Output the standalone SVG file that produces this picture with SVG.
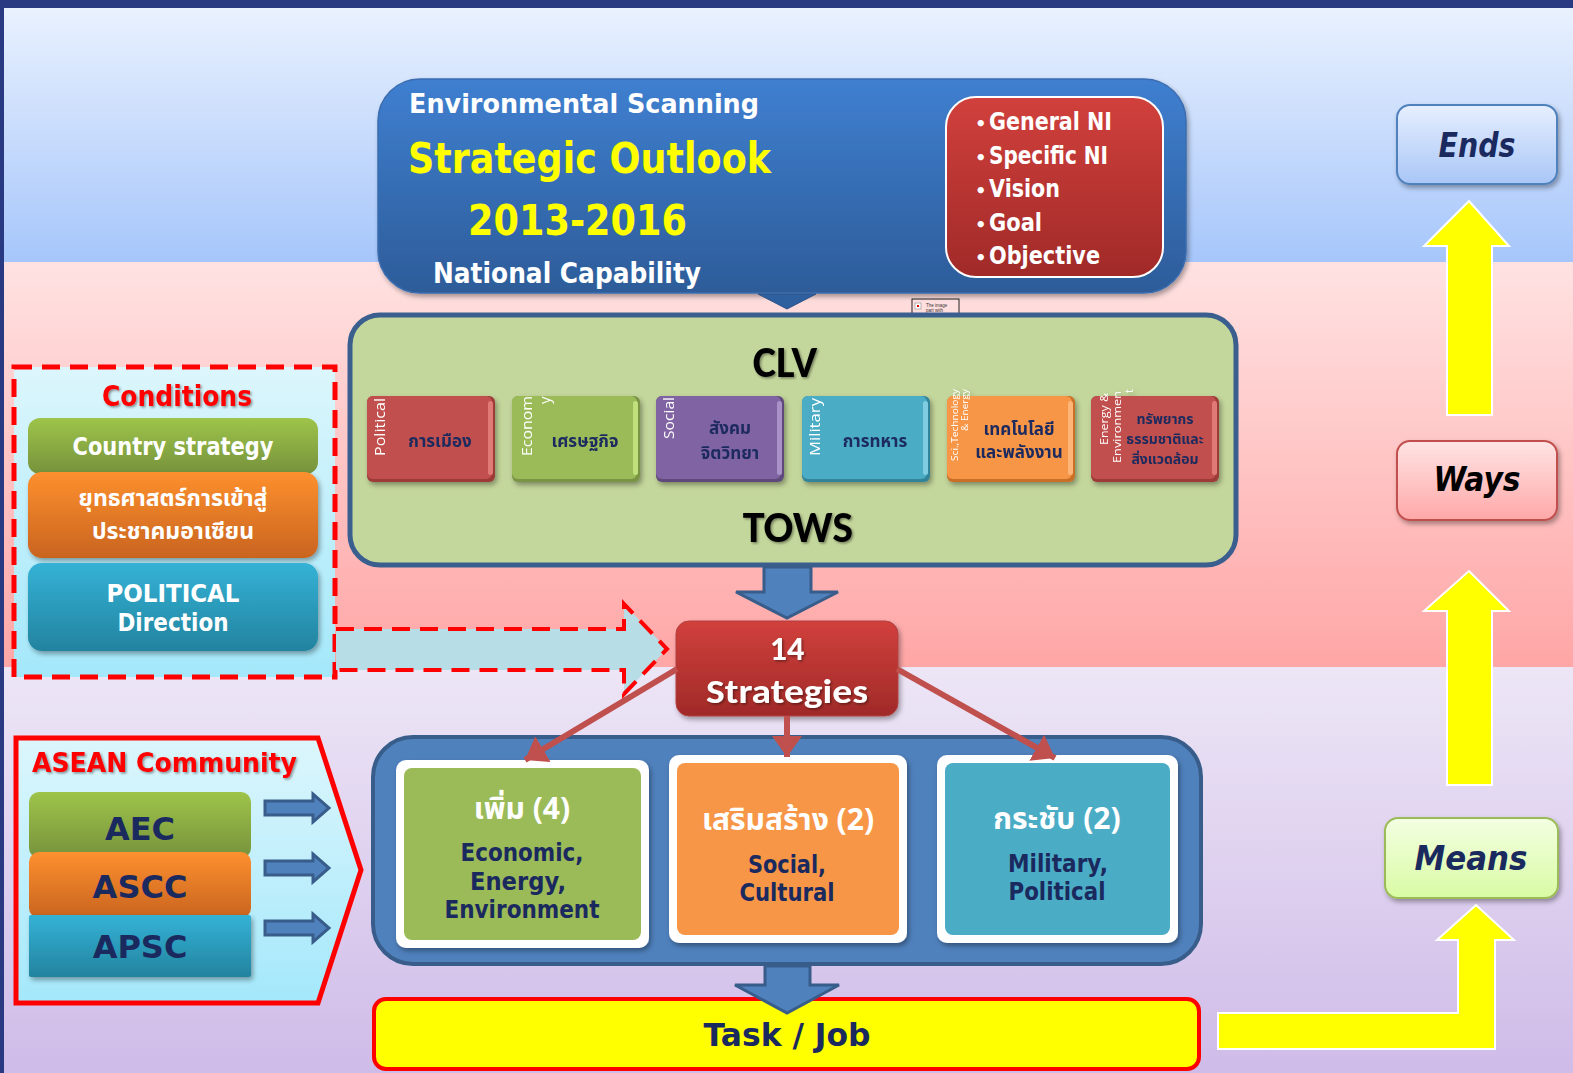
<svg xmlns="http://www.w3.org/2000/svg" width="1573" height="1073" viewBox="0 0 1573 1073">
<defs>
<linearGradient id="bg1" x1="0" y1="0" x2="0" y2="1"><stop offset="0" stop-color="#e9f1fe"/><stop offset="1" stop-color="#a6c6fb"/></linearGradient>
<linearGradient id="bg2" x1="0" y1="0" x2="0" y2="1"><stop offset="0" stop-color="#ffe2e2"/><stop offset="1" stop-color="#ffa6a6"/></linearGradient>
<linearGradient id="bg3" x1="0" y1="0" x2="0" y2="1"><stop offset="0" stop-color="#ede6f6"/><stop offset="1" stop-color="#cfbbe8"/></linearGradient>
<linearGradient id="gTop" x1="0" y1="0" x2="0" y2="1"><stop offset="0" stop-color="#3f7fd0"/><stop offset="1" stop-color="#2d5c99"/></linearGradient>
<linearGradient id="gRed" x1="0" y1="0" x2="0" y2="1"><stop offset="0" stop-color="#d1403c"/><stop offset="1" stop-color="#a02a28"/></linearGradient>
<linearGradient id="gCyan" x1="0" y1="0" x2="0" y2="1"><stop offset="0" stop-color="#dcf6fc"/><stop offset="1" stop-color="#a4e8fb"/></linearGradient>
<linearGradient id="gGreen" x1="0" y1="0" x2="0" y2="1"><stop offset="0" stop-color="#9ec44a"/><stop offset="1" stop-color="#76923c"/></linearGradient>
<linearGradient id="gOrange" x1="0" y1="0" x2="0" y2="1"><stop offset="0" stop-color="#fd902e"/><stop offset="1" stop-color="#c9641f"/></linearGradient>
<linearGradient id="gTeal" x1="0" y1="0" x2="0" y2="1"><stop offset="0" stop-color="#34b2d6"/><stop offset="1" stop-color="#23839f"/></linearGradient>
<linearGradient id="gEnds" x1="0" y1="0" x2="0" y2="1"><stop offset="0" stop-color="#e6efff"/><stop offset="1" stop-color="#a9c6f6"/></linearGradient>
<linearGradient id="gWays" x1="0" y1="0" x2="0" y2="1"><stop offset="0" stop-color="#ffe4e4"/><stop offset="1" stop-color="#ffa8a8"/></linearGradient>
<linearGradient id="gMeans" x1="0" y1="0" x2="0" y2="1"><stop offset="0" stop-color="#f3ffe2"/><stop offset="1" stop-color="#d9fba4"/></linearGradient>
<filter id="sh" x="-10%" y="-10%" width="130%" height="130%"><feDropShadow dx="2" dy="3" stdDeviation="2.5" flood-color="#000" flood-opacity="0.35"/></filter>
<filter id="tsh" x="-10%" y="-10%" width="130%" height="130%"><feDropShadow dx="1.5" dy="1.5" stdDeviation="1" flood-color="#000" flood-opacity="0.4"/></filter>
<marker id="rArrow" markerWidth="3.5" markerHeight="5" refX="3.5" refY="2.5" orient="auto" markerUnits="strokeWidth" viewBox="0 0 3.5 5"><path d="M0,0 L3.5,2.5 L0,5 z" fill="#c0504d"/></marker>
</defs>
<style>
.t{font-family:Tahoma,"DejaVu Sans","Noto Sans",sans-serif;font-weight:bold}
.c{font-family:Carlito,Calibri,"Open Sans","Noto Sans",sans-serif;font-weight:bold}
.w{fill:#ffffff}
.y{fill:#ffff00}
.n{fill:#1b2a5e}
.red{fill:#ff0000}
.mid{text-anchor:middle}
.th{font-family:Tahoma,"Noto Sans Thai","Noto Sans","DejaVu Sans",sans-serif;font-weight:bold}
.vt{font-family:"Open Sans","Noto Sans",sans-serif;fill:#ffffff}
.blueArrow{fill:#4f81bd;stroke:#385d8a;stroke-width:3}
.yArrow{fill:#ffff00;stroke:#ffffff;stroke-width:2}
.conn{stroke:#c0504d;stroke-width:6;fill:none}
</style>

<!-- background -->
<rect x="0" y="0" width="1573" height="1073" fill="#2a3a82"/>
<rect x="4" y="8" width="1569" height="254" fill="url(#bg1)"/>
<rect x="4" y="262" width="1569" height="405" fill="url(#bg2)"/>
<rect x="4" y="667" width="1569" height="406" fill="url(#bg3)"/>

<g id="top-box">
<rect x="378" y="79" width="808" height="214" rx="42" fill="url(#gTop)" stroke="#3a6db0" stroke-width="1.5" filter="url(#sh)"/>
<text class="t w" x="409" y="113" font-size="27" textLength="350" lengthAdjust="spacingAndGlyphs">Environmental  Scanning</text>
<text class="t y" x="408" y="173" font-size="42" textLength="363" lengthAdjust="spacingAndGlyphs">Strategic  Outlook</text>
<text class="t y" x="468" y="235" font-size="43" textLength="219" lengthAdjust="spacingAndGlyphs">2013-2016</text>
<text class="t w" x="433" y="283" font-size="28" textLength="268" lengthAdjust="spacingAndGlyphs">National Capability</text>
</g>

<g id="ni-box">
<rect x="946" y="97" width="217" height="180" rx="30" fill="url(#gRed)" stroke="#ffffff" stroke-width="2"/>
<g class="t w" font-size="25">
<text x="975" y="130" font-size="18">•</text><text x="989" y="130" textLength="123" lengthAdjust="spacingAndGlyphs">General NI</text>
<text x="975" y="164" font-size="18">•</text><text x="989" y="164" textLength="119" lengthAdjust="spacingAndGlyphs">Specific NI</text>
<text x="975" y="197" font-size="18">•</text><text x="989" y="197" textLength="71" lengthAdjust="spacingAndGlyphs">Vision</text>
<text x="975" y="231" font-size="18">•</text><text x="989" y="231" textLength="53" lengthAdjust="spacingAndGlyphs">Goal</text>
<text x="975" y="264" font-size="18">•</text><text x="989" y="264" textLength="111" lengthAdjust="spacingAndGlyphs">Objective</text>
</g>
</g>

<g id="image-placeholder">
<rect x="912" y="299" width="47" height="28" fill="#ffffff" fill-opacity="0.1" stroke="#222" stroke-width="1"/>
<rect x="915" y="303" width="6" height="6" fill="#fff" stroke="#888" stroke-width="0.6"/>
<rect x="917" y="305" width="2" height="2" fill="#d00"/>
<g font-family="'Liberation Sans',sans-serif" font-size="4.5" fill="#333">
<text x="926" y="307">The image</text>
<text x="926" y="312">part with</text>
<text x="926" y="317">relationship</text>
</g>
</g>

<g id="clv-box">
<rect x="350" y="315" width="886" height="250" rx="30" fill="#c3d69b" stroke="#3a5f8f" stroke-width="5"/>
<text class="c mid" x="785" y="377" font-size="44" fill="#000" filter="url(#tsh)">CLV</text>
<text class="c mid" x="798" y="542" font-size="44" fill="#000" filter="url(#tsh)">TOWS</text>
</g>

<g id="tile-political" filter="url(#sh)">
<rect x="367" y="396" width="128" height="86" rx="6" fill="#9c3a38"/>
<rect x="367" y="396" width="125" height="83" rx="6" fill="#c0504d"/>
<rect x="488" y="401" width="5" height="74" rx="2.5" fill="#e07a76"/>
<text class="vt" transform="translate(385,456) rotate(-90)" font-size="15" textLength="58" lengthAdjust="spacingAndGlyphs">Political</text>
<text class="th n mid" x="440" y="447" font-size="17">การเมือง</text>
</g>
<g id="tile-economy" filter="url(#sh)">
<rect x="512" y="396" width="128" height="86" rx="6" fill="#7a9444"/>
<rect x="512" y="396" width="125" height="83" rx="6" fill="#9bbb59"/>
<rect x="633" y="401" width="5" height="74" rx="2.5" fill="#bfe07c"/>
<text class="vt" transform="translate(532,456) rotate(-90)" font-size="15" textLength="60" lengthAdjust="spacingAndGlyphs">Econom</text>
<text class="vt" transform="translate(550,404) rotate(-90)" font-size="15">y</text>
<text class="th n mid" x="585" y="447" font-size="17">เศรษฐกิจ</text>
</g>
<g id="tile-social" filter="url(#sh)">
<rect x="656" y="396" width="128" height="86" rx="6" fill="#5f4a7c"/>
<rect x="656" y="396" width="125" height="83" rx="6" fill="#8064a2"/>
<rect x="777" y="401" width="5" height="74" rx="2.5" fill="#a892c8"/>
<text class="vt" transform="translate(674,439) rotate(-90)" font-size="15" textLength="42" lengthAdjust="spacingAndGlyphs">Social</text>
<text class="th n mid" x="730" y="434" font-size="17">สังคม</text>
<text class="th n mid" x="730" y="459" font-size="17">จิตวิทยา</text>
</g>
<g id="tile-military" filter="url(#sh)">
<rect x="802" y="396" width="128" height="86" rx="6" fill="#31849b"/>
<rect x="802" y="396" width="125" height="83" rx="6" fill="#4bacc6"/>
<rect x="923" y="401" width="5" height="74" rx="2.5" fill="#80cde2"/>
<text class="vt" transform="translate(820,456) rotate(-90)" font-size="15" textLength="58" lengthAdjust="spacingAndGlyphs">Military</text>
<text class="th n mid" x="875" y="447" font-size="17">การทหาร</text>
</g>
<g id="tile-technology" filter="url(#sh)">
<rect x="947" y="396" width="128" height="86" rx="6" fill="#c96f28"/>
<rect x="947" y="396" width="125" height="83" rx="6" fill="#f79646"/>
<rect x="1068" y="401" width="5" height="74" rx="2.5" fill="#ffb478"/>
<text class="vt" transform="translate(958,461) rotate(-90)" font-size="9" textLength="72" lengthAdjust="spacingAndGlyphs">Sci.,Technology</text>
<text class="vt" transform="translate(968,431) rotate(-90)" font-size="9" textLength="42" lengthAdjust="spacingAndGlyphs">&amp; Energy</text>
<text class="th n mid" x="1019" y="435" font-size="17">เทคโนโลยี</text>
<text class="th n mid" x="1019" y="458" font-size="17">และพลังงาน</text>
</g>
<g id="tile-environment" filter="url(#sh)">
<rect x="1091" y="396" width="128" height="86" rx="6" fill="#9c3a38"/>
<rect x="1091" y="396" width="125" height="83" rx="6" fill="#c0504d"/>
<rect x="1212" y="401" width="5" height="74" rx="2.5" fill="#e07a76"/>
<text class="vt" transform="translate(1108,445) rotate(-90)" font-size="11" textLength="52" lengthAdjust="spacingAndGlyphs">Energy &amp;</text>
<text class="vt" transform="translate(1121,463) rotate(-90)" font-size="11" textLength="72" lengthAdjust="spacingAndGlyphs">Environmen</text>
<text class="vt" transform="translate(1133,393) rotate(-90)" font-size="11">t</text>
<text class="th n mid" x="1165" y="424" font-size="14">ทรัพยากร</text>
<text class="th n mid" x="1165" y="444" font-size="14">ธรรมชาติและ</text>
<text class="th n mid" x="1165" y="464" font-size="14">สิ่งแวดล้อม</text>
</g>

<g id="conditions">
<rect x="14" y="367" width="321" height="310" fill="url(#gCyan)" stroke="#ff0000" stroke-width="5" stroke-dasharray="18,10"/>
<text class="t red mid" x="177" y="406" font-size="28" filter="url(#tsh)" textLength="150" lengthAdjust="spacingAndGlyphs">Conditions</text>
<rect x="28" y="418" width="290" height="56" rx="12" fill="url(#gGreen)"/>
<text class="t w mid" x="173" y="455" font-size="24" textLength="201" lengthAdjust="spacingAndGlyphs">Country strategy</text>
<rect x="28" y="472" width="290" height="86" rx="14" fill="url(#gOrange)" filter="url(#sh)"/>
<text class="th w mid" x="173" y="506" font-size="23">ยุทธศาสตร์การเข้าสู่</text>
<text class="th w mid" x="173" y="539" font-size="23">ประชาคมอาเซียน</text>
<rect x="28" y="563" width="290" height="88" rx="14" fill="url(#gTeal)" filter="url(#sh)"/>
<text class="t w mid" x="173" y="602" font-size="24" textLength="133" lengthAdjust="spacingAndGlyphs">POLITICAL</text>
<text class="t w mid" x="173" y="631" font-size="24" textLength="111" lengthAdjust="spacingAndGlyphs">Direction</text>
</g>

<g id="asean">
<path d="M16,738 L318,738 L361,870 L318,1003 L16,1003 z" fill="url(#gCyan)" stroke="#ff0000" stroke-width="5"/>
<text class="t red" x="32" y="772" font-size="27" filter="url(#tsh)" textLength="265" lengthAdjust="spacingAndGlyphs">ASEAN Community</text>
<rect x="29" y="792" width="222" height="66" rx="10" fill="url(#gGreen)"/>
<text class="t n mid" x="140" y="840" font-size="32">AEC</text>
<rect x="29" y="852" width="222" height="66" rx="10" fill="url(#gOrange)"/>
<text class="t n mid" x="140" y="898" font-size="32">ASCC</text>
<rect x="29" y="915" width="222" height="62" rx="2" fill="url(#gTeal)" filter="url(#sh)"/>
<text class="t n mid" x="140" y="958" font-size="32">APSC</text>
</g>

<g id="strategies">
<rect x="676" y="621" width="222" height="95" rx="13" fill="url(#gRed)" stroke="#b04040" stroke-width="1" filter="url(#sh)"/>
<text class="c w mid" x="787" y="660" font-size="34" filter="url(#tsh)">14</text>
<text class="c w mid" x="787" y="703" font-size="34" filter="url(#tsh)" textLength="162" lengthAdjust="spacingAndGlyphs">Strategies</text>
</g>

<g id="container">
<rect x="373" y="737" width="828" height="227" rx="40" fill="#4f81bd" stroke="#385d8a" stroke-width="4"/>
</g>

<g id="card-increase">
<rect x="396" y="760" width="253" height="188" rx="10" fill="#ffffff" filter="url(#sh)"/>
<rect x="404" y="768" width="237" height="172" rx="8" fill="#9bbb59"/>
<text class="th w mid" x="522" y="819" font-size="30">เพิ่ม (4)</text>
<text class="t n mid" x="522" y="861" font-size="24" textLength="123" lengthAdjust="spacingAndGlyphs">Economic,</text>
<text class="t n mid" x="518" y="890" font-size="24" textLength="96" lengthAdjust="spacingAndGlyphs">Energy,</text>
<text class="t n mid" x="522" y="918" font-size="24" textLength="155" lengthAdjust="spacingAndGlyphs">Environment</text>
</g>
<g id="card-strengthen">
<rect x="669" y="755" width="238" height="188" rx="10" fill="#ffffff" filter="url(#sh)"/>
<rect x="677" y="763" width="222" height="172" rx="8" fill="#f79646"/>
<text class="th w mid" x="788" y="830" font-size="30">เสริมสร้าง (2)</text>
<text class="t n mid" x="787" y="873" font-size="24" textLength="78" lengthAdjust="spacingAndGlyphs">Social,</text>
<text class="t n mid" x="787" y="901" font-size="24" textLength="95" lengthAdjust="spacingAndGlyphs">Cultural</text>
</g>
<g id="card-tighten">
<rect x="937" y="755" width="241" height="188" rx="10" fill="#ffffff" filter="url(#sh)"/>
<rect x="945" y="763" width="225" height="172" rx="8" fill="#4bacc6"/>
<text class="th w mid" x="1057" y="829" font-size="30">กระชับ (2)</text>
<text class="t n mid" x="1058" y="872" font-size="24" textLength="100" lengthAdjust="spacingAndGlyphs">Military,</text>
<text class="t n mid" x="1057" y="900" font-size="24" textLength="97" lengthAdjust="spacingAndGlyphs">Political</text>
</g>

<g id="task">
<rect x="374" y="999" width="825" height="70" rx="12" fill="#ffff00" stroke="#ff0000" stroke-width="4"/>
<text class="t n mid" x="787" y="1046" font-size="32" textLength="167" lengthAdjust="spacingAndGlyphs">Task / Job</text>
</g>

<g id="ends">
<rect x="1397" y="105" width="160" height="79" rx="13" fill="url(#gEnds)" stroke="#4f81bd" stroke-width="2" filter="url(#sh)"/>
<text class="t n mid" x="1477" y="157" font-size="34" font-style="italic" textLength="77" lengthAdjust="spacingAndGlyphs">Ends</text>
</g>
<g id="ways">
<rect x="1397" y="441" width="160" height="79" rx="13" fill="url(#gWays)" stroke="#c0504d" stroke-width="2" filter="url(#sh)"/>
<text class="t mid" x="1477" y="491" font-size="34" font-style="italic" fill="#000" textLength="87" lengthAdjust="spacingAndGlyphs">Ways</text>
</g>
<g id="means">
<rect x="1385" y="818" width="173" height="80" rx="13" fill="url(#gMeans)" stroke="#9bbb59" stroke-width="2" filter="url(#sh)"/>
<text class="t n mid" x="1471" y="870" font-size="34" font-style="italic" textLength="113" lengthAdjust="spacingAndGlyphs">Means</text>
</g>

<g id="connectors">
<!-- small pointer under top box -->
<path d="M758,294 L816,294 L787,309 z" fill="#2e5f9e" stroke="#2a528a" stroke-width="1"/>
<!-- CLV to strategies -->
<path class="blueArrow" d="M764,567 L811,567 L811,592 L838,592 L787,618 L736,592 L764,592 z"/>
<!-- container to task -->
<path class="blueArrow" d="M765,966 L810,966 L810,985 L839,985 L787,1013 L735,985 L765,985 z"/>
<!-- red connectors -->
<line class="conn" x1="677" y1="669" x2="525" y2="760" marker-end="url(#rArrow)"/>
<line class="conn" x1="787" y1="716" x2="787" y2="757" marker-end="url(#rArrow)"/>
<line class="conn" x1="897" y1="669" x2="1055" y2="758" marker-end="url(#rArrow)"/>
<!-- dashed conditions arrow -->
<path d="M336,629 L624,629 L624,604 L667,649 L624,694 L624,670 L336,670" fill="#b7dde6" stroke="#ff0000" stroke-width="4" stroke-dasharray="18,10"/>
<!-- ASEAN small arrows -->
<path class="blueArrow" d="M265,801 L313,801 L313,794 L329,808 L313,822 L313,815 L265,815 z" stroke-width="2"/>
<path class="blueArrow" d="M265,861 L313,861 L313,854 L329,868 L313,882 L313,875 L265,875 z" stroke-width="2"/>
<path class="blueArrow" d="M265,921 L313,921 L313,914 L329,928 L313,942 L313,935 L265,935 z" stroke-width="2"/>
<!-- yellow arrows right -->
<path class="yArrow" d="M1447,415 L1492,415 L1492,246 L1509,246 L1469,201 L1424,246 L1447,246 z"/>
<path class="yArrow" d="M1447,785 L1492,785 L1492,611 L1509,611 L1469,571 L1424,611 L1447,611 z"/>
<path class="yArrow" d="M1218,1013 L1458,1013 L1458,940 L1437,940 L1476,905 L1514,940 L1495,940 L1495,1049 L1218,1049 z"/>
</g>
</svg>
